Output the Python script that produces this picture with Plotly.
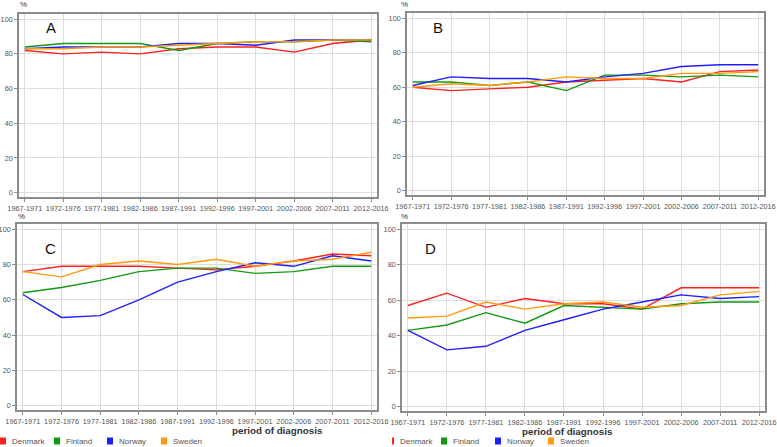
import plotly.graph_objects as go

periods = ["1967-1971", "1972-1976", "1977-1981", "1982-1986", "1987-1991",
           "1992-1996", "1997-2001", "2002-2006", "2007-2011", "2012-2016"]
countries = ["Denmark", "Finland", "Norway", "Sweden"]
colors = {"Denmark": "#ff2020", "Finland": "#119a11", "Norway": "#1e1eff", "Sweden": "#ff9a10"}

# panel A
a_denmark = [82, 80, 81, 80, 83, 84, 84, 81, 86, 88]
a_finland = [84, 86, 86, 86, 82, 86, 87, 87, 88, 87]
a_norway = [83, 84, 84, 84, 86, 86, 85, 88, 88, 88]
a_sweden = [83, 83, 84, 84, 85, 86, 87, 87, 88, 88]
# panel B
b_denmark = [60, 58, 59, 60, 63, 64, 65, 63, 69, 70]
b_finland = [63, 63, 61, 63, 58, 67, 67, 66, 67, 66]
b_norway = [61, 66, 65, 65, 63, 66, 68, 72, 73, 73]
b_sweden = [60, 62, 61, 63, 66, 65, 65, 68, 68, 69]
# panel C
c_denmark = [76, 79, 79, 79, 78, 77, 79, 82, 86, 85]
c_finland = [64, 67, 71, 76, 78, 78, 75, 76, 79, 79]
c_norway = [63, 50, 51, 60, 70, 76, 81, 79, 85, 82]
c_sweden = [76, 73, 80, 82, 80, 83, 79, 82, 83, 87]
# panel D
d_denmark = [57, 64, 56, 61, 58, 58, 55, 67, 67, 67]
d_finland = [43, 46, 53, 47, 57, 56, 55, 58, 59, 59]
d_norway = [43, 32, 34, 43, 49, 55, 59, 63, 61, 62]
d_sweden = [50, 51, 59, 55, 58, 59, 56, 57, 63, 65]

panels = [
    ("A", [a_denmark, a_finland, a_norway, a_sweden]),
    ("B", [b_denmark, b_finland, b_norway, b_sweden]),
    ("C", [c_denmark, c_finland, c_norway, c_sweden]),
    ("D", [d_denmark, d_finland, d_norway, d_sweden]),
]

W, H = 777, 447
# pixel frames: left, right, top, bottom
frames = [(19, 377, 14, 197), (407, 764, 13, 195), (17, 377, 224, 410), (402, 765, 224, 411)]

fig = go.Figure()
tick_font = dict(family="Liberation Sans", size=7.3, color="#555555")

for i, (letter, series) in enumerate(panels):
    n = "" if i == 0 else str(i + 1)
    for name, vals in zip(countries, series):
        fig.add_trace(go.Scatter(
            x=periods, y=vals, mode="lines", name=name, showlegend=False,
            line=dict(color=colors[name], width=1.4),
            xaxis="x" + n, yaxis="y" + n,
        ))
    l, r, t, b = frames[i]
    fig.update_layout(**{
        "xaxis" + n: dict(
            domain=[l / W, r / W], anchor="y" + n, range=[-0.15, 9.15],
            showgrid=True, gridcolor="#dddddd", gridwidth=1,
            showline=True, linecolor="#8c8c8c", linewidth=1.5, mirror=True,
            ticks="outside", ticklen=3, tickcolor="#8c8c8c",
            tickfont=tick_font, tickangle=0, zeroline=False, automargin=False,
        ),
        "yaxis" + n: dict(
            domain=[1 - b / H, 1 - t / H], anchor="x" + n, range=[-2.5, 103],
            tickvals=[0, 20, 40, 60, 80, 100],
            showgrid=True, gridcolor="#dddddd", gridwidth=1,
            showline=True, linecolor="#8c8c8c", linewidth=1.5, mirror=True,
            ticks="outside", ticklen=3, tickcolor="#8c8c8c",
            tickfont=tick_font, zeroline=False, automargin=False,
        ),
    })

annotations = []
letter_pos = [(44, 27), (438, 27), (43, 248), (430, 248)]
for (letter, _), (px_, py_) in zip(panels, letter_pos):
    annotations.append(dict(x=px_ / W, y=1 - py_ / H, xref="paper", yref="paper",
                            text=letter, showarrow=False, yanchor="middle",
                            font=dict(family="Liberation Sans", size=15, color="#111111")))
for px_, py_ in [(18, 5), (16, 216.5), (405, 4), (405, 216.5)]:
    annotations.append(dict(x=px_ / W, y=1 - py_ / H, xref="paper", yref="paper",
                            text="%", showarrow=False, yanchor="middle",
                            font=dict(family="Liberation Sans", size=8, color="#333333")))
for cx, cy in [(230, 430), (615, 431)]:
    annotations.append(dict(x=cx / W, y=1 - cy / H, xref="paper", yref="paper",
                            text="<b>period of diagnosis</b>", showarrow=False, yanchor="middle",
                            font=dict(family="Liberation Sans", size=9.8, color="#333333")))

shapes = []
legend_rows = [(0, [0, 54, 107, 161]), (392, [392, 441, 495, 548])]
for base, xs in legend_rows:
    for name, x0 in zip(countries, xs):
        w = 2 if (base > 0 and name == "Denmark") else 6
        shapes.append(dict(type="rect", xref="paper", yref="paper",
                           x0=x0 / W, x1=(x0 + w) / W,
                           y0=1 - 444.5 / H, y1=1 - 437.5 / H,
                           fillcolor=colors[name], line=dict(width=0)))
        annotations.append(dict(x=(x0 + w + 4) / W, y=1 - 441 / H, xref="paper", yref="paper",
                                text=name, showarrow=False, xanchor="left", yanchor="middle",
                                font=dict(family="Liberation Sans", size=8, color="#555555")))

fig.update_layout(
    width=W, height=H,
    margin=dict(l=0, r=0, t=0, b=0),
    paper_bgcolor="white", plot_bgcolor="white",
    showlegend=False,
    annotations=annotations, shapes=shapes,
)

fig.write_html("out.html", config={"displayModeBar": False},
               post_script="document.body.style.margin='0';document.body.style.overflow='hidden';")
